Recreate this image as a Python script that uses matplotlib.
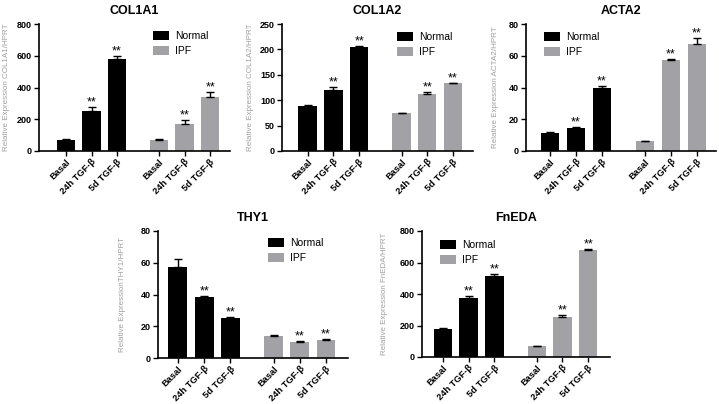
import matplotlib
matplotlib.use("Agg")
import matplotlib.pyplot as plt
from matplotlib.patches import Patch

plt.rcParams['font.family'] = ['Liberation Sans', 'DejaVu Sans']

conditions = ["Basal", "24h TGF-β", "5d TGF-β"]
groups = ["Normal", "IPF"]
sig = ["", "**", "**"]

genes = ["COL1A1", "COL1A2", "ACTA2", "THY1", "FnEDA"]
ylabels = [
    "Relative Expression COL1A1/HPRT",
    "Relative Expression COL1A2/HPRT",
    "Relative Expression ACTA2/HPRT",
    "Relative ExpressionTHY1/HPRT",
    "Relative Expression FnEDA/HPRT",
]

col1a1_normal = [70, 255, 580]
col1a1_normal_err = [3, 22, 20]
col1a1_ipf = [72, 170, 340]
col1a1_ipf_err = [6, 28, 30]

col1a2_normal = [89, 120, 205]
col1a2_normal_err = [1.5, 6, 1]
col1a2_ipf = [74, 113, 133]
col1a2_ipf_err = [1, 3.5, 1.5]

acta2_normal = [11.5, 14.4, 39.4]
acta2_normal_err = [0.2, 0.6, 1.6]
acta2_ipf = [6.0, 57.3, 67.4]
acta2_ipf_err = [0.3, 0.5, 3.8]

thy1_normal = [57.6, 38.5, 25.3]
thy1_normal_err = [4.6, 0.3, 0.3]
thy1_ipf = [14.0, 10.2, 11.3]
thy1_ipf_err = [0.5, 0.6, 0.4]

fneda_normal = [180, 375, 516]
fneda_normal_err = [5, 14, 12]
fneda_ipf = [70, 253, 682]
fneda_ipf_err = [2, 12, 2]

normal_vals = [col1a1_normal, col1a2_normal, acta2_normal, thy1_normal, fneda_normal]
normal_errs = [col1a1_normal_err, col1a2_normal_err, acta2_normal_err, thy1_normal_err, fneda_normal_err]
ipf_vals = [col1a1_ipf, col1a2_ipf, acta2_ipf, thy1_ipf, fneda_ipf]
ipf_errs = [col1a1_ipf_err, col1a2_ipf_err, acta2_ipf_err, thy1_ipf_err, fneda_ipf_err]

ymax = [800, 250, 80, 80, 800]
ystep = [200, 50, 20, 20, 200]

# layout in pixels: spine left, right, top, bottom
W, H = 719, 404
boxes = [(39, 230, 24, 151), (282, 473, 24, 151), (526, 716, 24, 151),
         (158, 348, 231, 358), (422, 610, 231, 357)]
xlims = [(-1.06, 6.43), (-1.0, 6.43), (-0.92, 6.38), (-0.76, 6.49), (-0.82, 6.5)]
legend_xy = [(153, 31), (397, 32), (544, 32), (268, 238), (440, 240)]
ylabel_x = [6, 250, 495, 122, 384]

NORMAL_C = "black"
IPF_C = "#a2a2a6"

pos_normal = [0, 1, 2]
pos_ipf = [3.65, 4.65, 5.65]

fig = plt.figure(figsize=(W / 100, H / 100), dpi=100)

for i, gene in enumerate(genes):
    l, r, t, b = boxes[i]
    ax = fig.add_axes([l / W, 1 - b / H, (r - l) / W, (b - t) / H])

    for pos, vals, errs, col in [(pos_normal, normal_vals[i], normal_errs[i], NORMAL_C),
                                 (pos_ipf, ipf_vals[i], ipf_errs[i], IPF_C)]:
        ax.bar(pos, vals, width=0.72, color=col, zorder=2)
        ax.errorbar(pos, vals, yerr=[[0] * 3, errs], fmt='none', ecolor='black',
                    elinewidth=1.0, capsize=3, capthick=1.0, zorder=3)
        for p, v, e, s in zip(pos, vals, errs, sig):
            if s:
                ax.annotate(s, (p, v + e), xytext=(0, -1), textcoords='offset points',
                            ha='center', va='bottom', fontsize=9)

    ax.set_xlim(*xlims[i])
    ax.set_ylim(0, ymax[i])
    ax.set_yticks(range(0, ymax[i] + 1, ystep[i]))
    ax.set_xticks(pos_normal + pos_ipf)
    ax.set_xticklabels(conditions * 2, rotation=45, ha='right', rotation_mode='anchor',
                       fontsize=6.7, fontweight='bold')
    for lab in ax.get_yticklabels():
        lab.set_fontweight('bold')
        lab.set_fontsize(6.5)
    ax.tick_params(axis='both', direction='out', length=3.5, width=1.0, pad=1.5)
    ax.tick_params(axis='x', pad=1)
    for side in ['top', 'right']:
        ax.spines[side].set_visible(False)
    for side in ['left', 'bottom']:
        ax.spines[side].set_linewidth(1.2)

    ax.set_title(gene, fontsize=9, fontweight='bold', pad=7)
    ax.set_ylabel(ylabels[i], fontsize=5.8, color='#a0a0a0')
    ax.yaxis.set_label_coords((ylabel_x[i] + 4 - l) / (r - l), 0.5)

    handles = [Patch(facecolor=NORMAL_C, edgecolor='none', label=groups[0]),
               Patch(facecolor=IPF_C, edgecolor='none', label=groups[1])]
    lx, ly = legend_xy[i]
    ax.legend(handles=handles, loc='upper left', bbox_to_anchor=(lx / W, 1 - ly / H),
              bbox_transform=fig.transFigure, frameon=False, borderpad=0,
              borderaxespad=0, handlelength=1.5, handleheight=0.95,
              handletextpad=0.6, labelspacing=0.45, fontsize=7.5)

fig.savefig("out.png", dpi=100)
